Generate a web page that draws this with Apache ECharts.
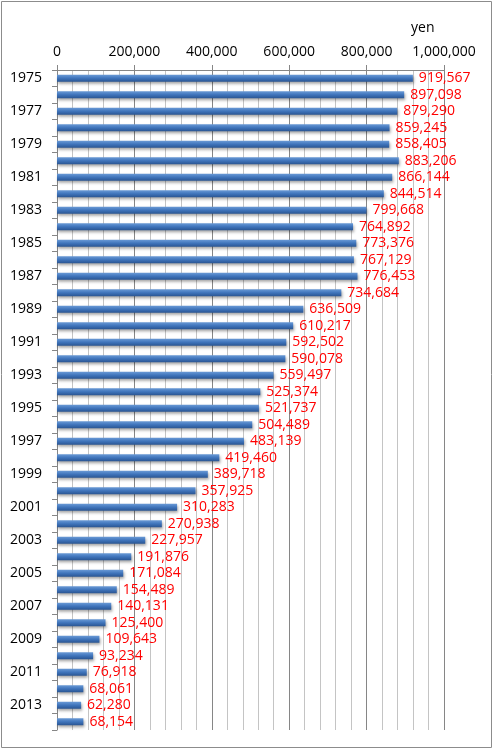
<!DOCTYPE html>
<html>
<head>
<meta charset="utf-8">
<script src="https://cdn.jsdelivr.net/npm/echarts@6/dist/echarts.min.js"></script>
<style>
  html, body { margin: 0; padding: 0; background: #fff; }
  #main { width: 494px; height: 751px; }
</style>
</head>
<body>
<div id="main"></div>
<script>
// years 1975 - 2014
var years = [];
for (var y = 1975; y <= 2014; y++) {
    years.push(String(y));
}

var values = [
    919567, 897098, 879290, 859245, 858405, 883206, 866144, 844514, 799668, 764892,
    773376, 767129, 776453, 734684, 636509, 610217, 592502, 590078, 559497, 525374,
    521737, 504489, 483139, 419460, 389718, 357925, 310283, 270938, 227957, 191876,
    171084, 154489, 140131, 125400, 109643, 93234, 76918, 68061, 62280, 68154
];

var xTicks = [0, 200000, 400000, 600000, 800000, 1000000];

var font = 'Open Sans';

var chart = echarts.init(document.getElementById('main'));

var option = {
    animation: false,
    backgroundColor: '#fff',
    title: {
        text: 'yen',
        left: 406,
        top: 16,
        textStyle: { fontFamily: font, fontSize: 14, fontWeight: 'normal', color: '#000' }
    },
    graphic: [{
        type: 'rect',
        shape: { x: 1.5, y: 1.5, width: 490, height: 746 },
        style: { fill: 'none', stroke: '#8c8c8c', lineWidth: 1 },
        silent: true
    }],
    grid: { left: 57, right: 50, top: 70, bottom: 21, containLabel: false },
    xAxis: {
        type: 'value',
        position: 'top',
        min: xTicks[0],
        max: xTicks[xTicks.length - 1],
        interval: 200000,
        axisLine: { show: true, lineStyle: { color: '#868686' } },
        axisTick: { show: true, length: 5, lineStyle: { color: '#868686' } },
        axisLabel: {
            margin: 11,
            fontFamily: font,
            fontSize: 14,
            color: '#000',
            formatter: function (v) { return echarts.format.addCommas(v); }
        },
        splitLine: { show: true, lineStyle: { color: '#868686' } },
        minorTick: { show: false, splitNumber: 5 },
        minorSplitLine: { show: true, lineStyle: { color: '#c4c4c4' } }
    },
    yAxis: {
        type: 'category',
        inverse: true,
        data: years,
        axisLine: { show: true, lineStyle: { color: '#868686' } },
        axisTick: { show: true, length: 5, interval: 0, lineStyle: { color: '#868686' } },
        axisLabel: {
            interval: 1,
            margin: 15,
            fontFamily: font,
            fontSize: 14,
            color: '#000'
        },
        splitLine: { show: false }
    },
    series: [{
        type: 'bar',
        data: values,
        barWidth: 7,
        itemStyle: {
            color: new echarts.graphic.LinearGradient(0, 0, 0, 1, [
                { offset: 0, color: '#6a9ad6' },
                { offset: 0.5, color: '#3f74bb' },
                { offset: 1, color: '#2a5592' }
            ]),
            shadowColor: 'rgba(0,0,0,0.35)',
            shadowBlur: 3,
            shadowOffsetX: 1,
            shadowOffsetY: 2
        },
        label: {
            show: true,
            position: 'right',
            distance: 6,
            fontFamily: font,
            fontSize: 14,
            color: '#ff0000',
            formatter: function (p) { return echarts.format.addCommas(p.value); }
        }
    }]
};

chart.setOption(option);
</script>
</body>
</html>
